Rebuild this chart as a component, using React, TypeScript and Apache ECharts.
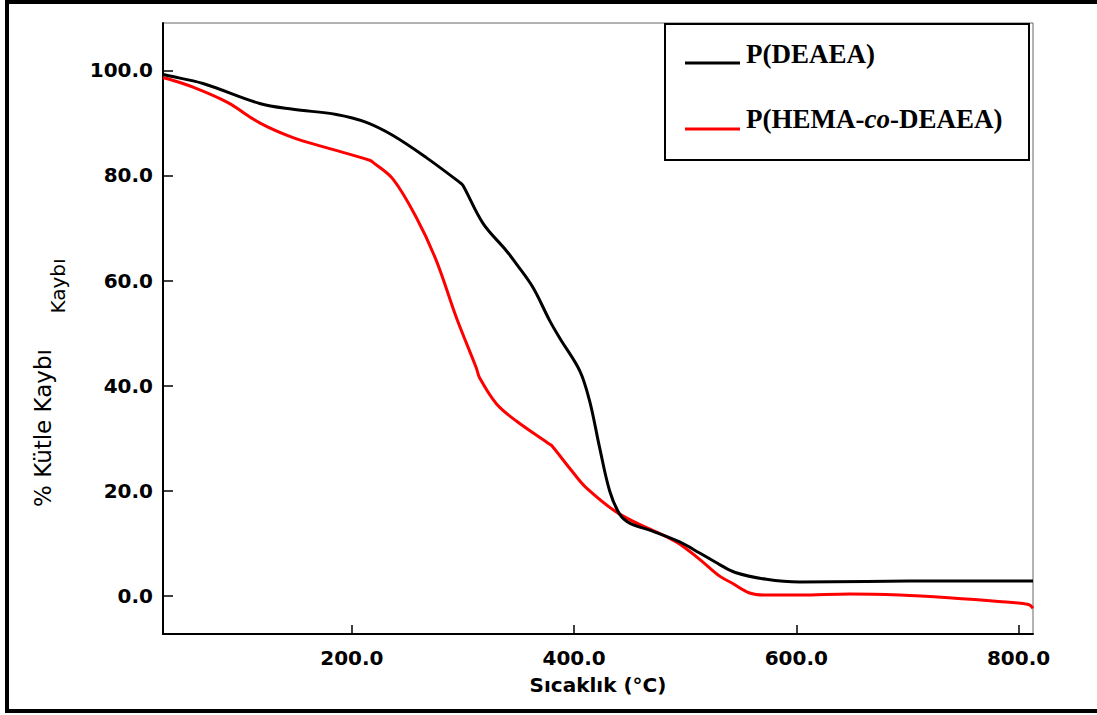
import React, { useEffect, useRef } from "react";
import * as echarts from "echarts";

const seriesNames = ["P(DEAEA)", "P(HEMA-co-DEAEA)"];
const xTicks = [200, 400, 600, 800];
const yTicks = [0, 20, 40, 60, 80, 100];

const deaeaT = [30, 34, 66, 117, 147, 186, 213, 237, 267, 297, 300, 318, 339, 348, 363, 378, 387, 405, 414, 423, 432, 441, 450, 470, 495, 513, 531, 545, 573, 603, 663, 740, 813];
const deaeaW = [99.2, 99.0, 97.5, 93.7, 92.6, 91.6, 90.1, 87.6, 83.4, 78.7, 78.1, 70.9, 65.7, 63.2, 58.7, 52.4, 49.1, 42.9, 37.1, 28.2, 20.0, 15.6, 13.9, 12.4, 10.3, 8.2, 6.0, 4.5, 3.2, 2.7, 2.8, 2.9, 2.9];

const hemaT = [30, 34, 57, 88, 117, 147, 177, 216, 219, 237, 258, 276, 294, 312, 315, 330, 348, 378, 380, 398, 411, 441, 486, 495, 513, 531, 542, 558, 573, 603, 648, 693, 737, 782, 809, 813];
const hemaW = [98.6, 98.4, 96.8, 93.9, 90.0, 87.2, 85.3, 82.9, 82.5, 79.3, 72.0, 63.8, 53.0, 43.4, 41.5, 36.6, 33.3, 28.9, 28.6, 23.8, 20.6, 15.6, 11.0, 9.9, 7.0, 3.8, 2.5, 0.6, 0.2, 0.2, 0.4, 0.2, -0.3, -1.0, -1.6, -2.3];

const deaeaData = deaeaT.map((t, i) => [t, deaeaW[i]]);
const hemaData = hemaT.map((t, i) => [t, hemaW[i]]);

export default function App() {
  const ref = useRef<HTMLDivElement>(null);
  useEffect(() => {
    if (!ref.current) return;
    const chart = echarts.init(ref.current, null, { renderer: "svg" });
    const labelFont = {
      fontFamily: "DejaVu Sans",
      fontWeight: "bold" as const,
      fontSize: 20,
      color: "#000",
    };
    chart.setOption({
      animation: false,
      backgroundColor: "#fff",
      grid: {
        left: 163,
        right: 64,
        top: 23,
        bottom: 81,
        show: true,
        borderColor: "#666",
        borderWidth: 1,
        backgroundColor: "transparent",
      },
      xAxis: {
        type: "value",
        min: 30,
        max: 813,
        name: "Sıcaklık (°C)",
        nameLocation: "middle",
        nameGap: 41,
        nameTextStyle: { ...labelFont, fontSize: 20 },
        axisLine: { show: true, onZero: false, lineStyle: { color: "#000", width: 2 } },
        axisTick: { show: true, inside: true, length: 9, customValues: xTicks, lineStyle: { color: "#000", width: 1.5 } },
        axisLabel: {
          ...labelFont,
          margin: 14,
          customValues: xTicks,
          formatter: (v: number) => v.toFixed(1),
        },
        splitLine: { show: false },
      },
      yAxis: {
        type: "value",
        min: -7.2,
        max: 109,
        axisLine: { show: true, onZero: false, lineStyle: { color: "#000", width: 2 } },
        axisTick: { show: true, inside: true, length: 10, customValues: yTicks, lineStyle: { color: "#000", width: 1.5 } },
        axisLabel: {
          ...labelFont,
          margin: 10,
          customValues: yTicks,
          formatter: (v: number) => v.toFixed(1),
        },
        splitLine: { show: false },
      },
      series: [
        {
          name: seriesNames[0],
          type: "line",
          data: deaeaData,
          smooth: 0.35,
          showSymbol: false,
          lineStyle: { color: "#000", width: 3 },
          z: 3,
        },
        {
          name: seriesNames[1],
          type: "line",
          data: hemaData,
          smooth: 0.35,
          showSymbol: false,
          lineStyle: { color: "#ff0000", width: 3 },
          z: 2,
        },
      ],
      graphic: [
        {
          type: "rect",
          shape: { x: 7, y: 2, width: 1100, height: 709 },
          style: { fill: "none", stroke: "#000", lineWidth: 4 },
          silent: true,
        },
        {
          type: "text",
          x: 43,
          y: 428,
          rotation: Math.PI / 2,
          style: {
            text: "% Kütle Kaybı",
            fontFamily: "DejaVu Sans",
            fontSize: 23,
            fill: "#000",
            align: "center",
            verticalAlign: "middle",
          },
        },
        {
          type: "text",
          x: 58,
          y: 286,
          rotation: Math.PI / 2,
          style: {
            text: "Kaybı",
            fontFamily: "DejaVu Sans",
            fontSize: 20,
            fill: "#000",
            align: "center",
            verticalAlign: "middle",
          },
        },
        {
          type: "rect",
          shape: { x: 665, y: 24, width: 364, height: 136 },
          style: { fill: "#fff", stroke: "#000", lineWidth: 2 },
          z: 10,
        },
        {
          type: "line",
          shape: { x1: 685, y1: 63, x2: 740, y2: 63 },
          style: { stroke: "#000", lineWidth: 3 },
          z: 11,
        },
        {
          type: "line",
          shape: { x1: 685, y1: 129, x2: 740, y2: 129 },
          style: { stroke: "#ff0000", lineWidth: 3 },
          z: 11,
        },
        {
          type: "text",
          x: 746,
          y: 54,
          z: 11,
          style: {
            text: seriesNames[0],
            fontFamily: "Liberation Serif",
            fontWeight: "bold",
            fontSize: 27,
            fill: "#000",
            align: "left",
            verticalAlign: "middle",
          },
        },
        {
          type: "text",
          x: 746,
          y: 119,
          z: 11,
          style: {
            text: "{b|P(HEMA-}{i|co}{b|-DEAEA)}",
            align: "left",
            verticalAlign: "middle",
            rich: {
              b: { fontFamily: "Liberation Serif", fontWeight: "bold", fontSize: 27, fill: "#000" },
              i: { fontFamily: "Liberation Serif", fontWeight: "bold", fontStyle: "italic", fontSize: 27, fill: "#000" },
            },
          },
        },
      ],
    });
    return () => chart.dispose();
  }, []);
  return (
    <div
      ref={ref}
      style={{ position: "fixed", left: 0, top: 0, width: 1097, height: 715 }}
    />
  );
}
